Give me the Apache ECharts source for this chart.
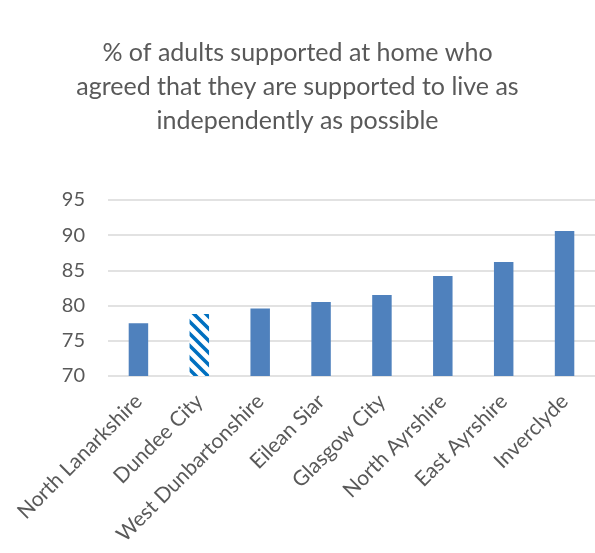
<!DOCTYPE html>
<html>
<head>
<meta charset="utf-8">
<script src="https://cdn.jsdelivr.net/npm/echarts@6/dist/echarts.min.js"></script>
<style>
  html, body { margin: 0; padding: 0; background: #fff; }
  #chart { width: 595px; height: 553px; }
</style>
</head>
<body>
<div id="chart"></div>
<script>
var titleText = '% of adults supported at home who\nagreed that they are supported to live as\nindependently as possible'
var councils = ['North Lanarkshire', 'Dundee City', 'West Dunbartonshire', 'Eilean Siar',
  'Glasgow City', 'North Ayrshire', 'East Ayrshire', 'Inverclyde']
var agreedPct = [77.5, 78.8, 79.6, 80.5, 81.5, 84.2, 86.2, 90.6]
var highlighted = 'Dundee City'

// wide diagonal stripes for the highlighted council
function stripes () {
  var n = 12
  var c = document.createElement('canvas')
  c.width = n
  c.height = n
  var ctx = c.getContext('2d')
  ctx.fillStyle = '#fff'
  ctx.fillRect(0, 0, n, n)
  ctx.strokeStyle = '#0070c0'
  ctx.lineWidth = 3.6
  ctx.beginPath()
  for (var k = -n; k <= n; k += n) {
    ctx.moveTo(k - 2, -2)
    ctx.lineTo(k + n + 2, n + 2)
  }
  ctx.stroke()
  return c
}

var chart = echarts.init(document.getElementById('chart'))
var font = 'Lato, "Open Sans", sans-serif'
var option = {
  animation: false,
  title: {
    text: titleText,
    left: 'center',
    top: 31,
    textStyle: {
      fontFamily: font,
      fontSize: 25,
      fontWeight: 'normal',
      color: '#595959',
      lineHeight: 34
    }
  },
  grid: {
    left: 108,
    right: -2,
    top: 200,
    bottom: 177
  },
  xAxis: {
    type: 'category',
    data: councils,
    axisLine: { show: false },
    axisTick: { show: false },
    axisLabel: {
      interval: 0,
      rotate: 45,
      margin: 22,
      fontFamily: font,
      fontSize: 21,
      color: '#595959'
    }
  },
  yAxis: {
    type: 'value',
    min: 70,
    max: 95,
    interval: 5,
    axisLine: { show: false },
    axisTick: { show: false },
    axisLabel: {
      margin: 23,
      fontFamily: font,
      fontSize: 20,
      color: '#595959'
    },
    splitLine: { lineStyle: { color: '#d9d9d9', width: 1.5 } }
  },
  series: [{
    type: 'bar',
    barWidth: '32%',
    data: agreedPct.map(function (v, i) {
      if (councils[i] === highlighted) {
        return { value: v, itemStyle: { color: { image: stripes(), repeat: 'repeat' } } }
      }
      return v
    }),
    itemStyle: { color: '#4f81bd' }
  }]
}
chart.setOption(option)
</script>
</body>
</html>
